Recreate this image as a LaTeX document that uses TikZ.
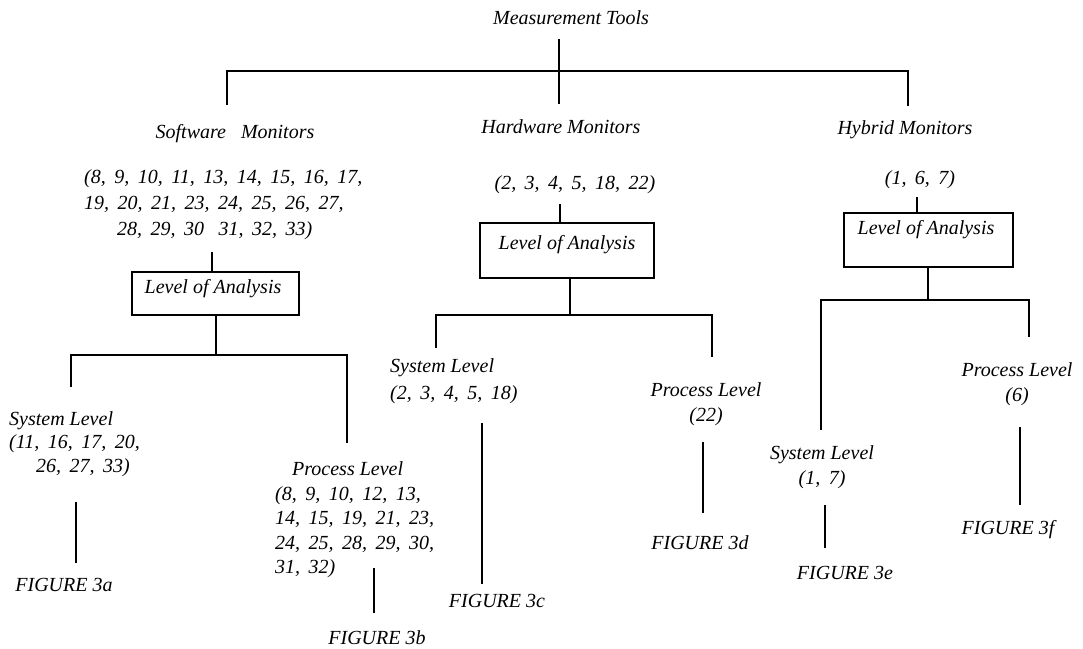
\documentclass[tikz,border=0pt]{standalone}
\usepackage{fontspec}
\setmainfont{Liberation Serif}
\newfontfamily\numfamily[WordSpace=1.7]{Liberation Serif}
\begin{document}
\begin{tikzpicture}[x=1pt,y=-1pt,
  txt/.style={inner sep=0pt, font=\fontsize{20}{24.5}\selectfont\itshape},
  nums/.style={inner sep=0pt, font=\numfamily\fontsize{20}{24.5}\selectfont\itshape},
  boxnode/.style={draw, line width=1.4pt, inner sep=0pt},
  conn/.style={line width=1.5pt}]
\useasboundingbox (0,0) rectangle (1083,648);

% ---------- top ----------
\node[txt, anchor=base] (mt) at (571,24) {Measurement Tools};
\node[txt, anchor=base] (sw) at (235,138) {Software\hspace{0.5em} Monitors};
\node[txt, anchor=base] (hw) at (561,133) {Hardware Monitors};
\node[txt, anchor=base] (hy) at (905,134) {Hybrid Monitors};

\draw[conn] (559,39) -- (559,104);
\draw[conn] (227,105) -- (227,71) -- (908,71) -- (908,106);

% ---------- software ----------
\node[nums, anchor=west, align=left, font=\numfamily\fontsize{20}{26}\selectfont\itshape] (swn) at (84,204.5)
  {(8, 9, 10, 11, 13, 14, 15, 16, 17,\\19, 20, 21, 23, 24, 25, 26, 27,\\\hspace*{33pt}28, 29, 30\hspace{0.3em} 31, 32, 33)};
\node[boxnode, minimum width=167pt, minimum height=43pt] (sbox) at (215.5,293.5) {};
\node[txt, anchor=base] (sboxt) at (213,293) {Level of Analysis};
\coordinate (sin) at (212,252);
\draw[conn] (sin) -- (sin |- sbox.north);
\coordinate (sj) at (216,355);
\draw[conn] (sj |- sbox.south) -- (sj);
\draw[conn] (71,387) -- (71,355) -- (347,355) -- (347,443);

\node[nums, anchor=west, align=left, font=\numfamily\fontsize{20}{23.5}\selectfont\itshape] (ssys) at (9,444)
  {System\hspace{5pt}Level\\(11, 16, 17, 20,\\\hspace*{27pt}26, 27, 33)};
\node[txt, anchor=base] (f3a) at (64,591) {FIGURE 3a};
\draw[conn] (76,502) -- (76,563);

\node[nums, anchor=west, align=left] (sproc) at (275,520)
  {\hspace*{17pt}Process\hspace{5pt}Level\\(8, 9, 10, 12, 13,\\14, 15, 19, 21, 23,\\24, 25, 28, 29, 30,\\31, 32)};
\node[txt, anchor=base] (f3b) at (377,644) {FIGURE 3b};
\draw[conn] (374,568) -- (374,613);

% ---------- hardware ----------
\node[nums, anchor=base] (hwn) at (575,189) {(2, 3, 4, 5, 18, 22)};
\node[boxnode, minimum width=174pt, minimum height=55pt] (hbox) at (567,250.5) {};
\node[txt, anchor=base] (hboxt) at (567,249) {Level of Analysis};
\coordinate (hin) at (560,204);
\draw[conn] (hin) -- (hin |- hbox.north);
\coordinate (hj) at (570,315);
\draw[conn] (hj |- hbox.south) -- (hj);
\draw[conn] (436,348) -- (436,315) -- (712,315) -- (712,357);

\node[nums, anchor=west, align=left, font=\numfamily\fontsize{20}{27}\selectfont\itshape] (hsys) at (390,381)
  {System\hspace{5pt}Level\\(2, 3, 4, 5, 18)};
\node[txt, anchor=base] (f3c) at (497,607) {FIGURE 3c};
\draw[conn] (482,423) -- (482,584);

\node[txt, align=center, font=\fontsize{20}{25}\selectfont\itshape] (hproc) at (706,404)
  {Process Level\\(22)};
\node[txt, anchor=base] (f3d) at (700,549) {FIGURE 3d};
\draw[conn] (703,442) -- (703,513);

% ---------- hybrid ----------
\node[nums, anchor=base] (hyn) at (920,184) {(1, 6, 7)};
\node[boxnode, minimum width=169pt, minimum height=54pt] (ybox) at (928.5,240) {};
\node[txt, anchor=base] (yboxt) at (926,234) {Level of Analysis};
\coordinate (yin) at (917,197);
\draw[conn] (yin) -- (yin |- ybox.north);
\coordinate (yj) at (928,300);
\draw[conn] (yj |- ybox.south) -- (yj);
\draw[conn] (821,430) -- (821,300) -- (1029,300) -- (1029,337);

\node[nums, align=center, font=\numfamily\fontsize{20}{25}\selectfont\itshape] (ysys) at (822,467)
  {System\hspace{5pt}Level\\(1, 7)};
\node[txt, anchor=base] (f3e) at (845,579) {FIGURE 3e};
\draw[conn] (825,505) -- (825,548);

\node[txt, align=center, font=\fontsize{20}{25}\selectfont\itshape] (yproc) at (1017,384)
  {Process Level\\(6)};
\node[txt, anchor=base] (f3f) at (1008,534) {FIGURE 3f};
\draw[conn] (1020,427) -- (1020,505);
\end{tikzpicture}
\end{document}
